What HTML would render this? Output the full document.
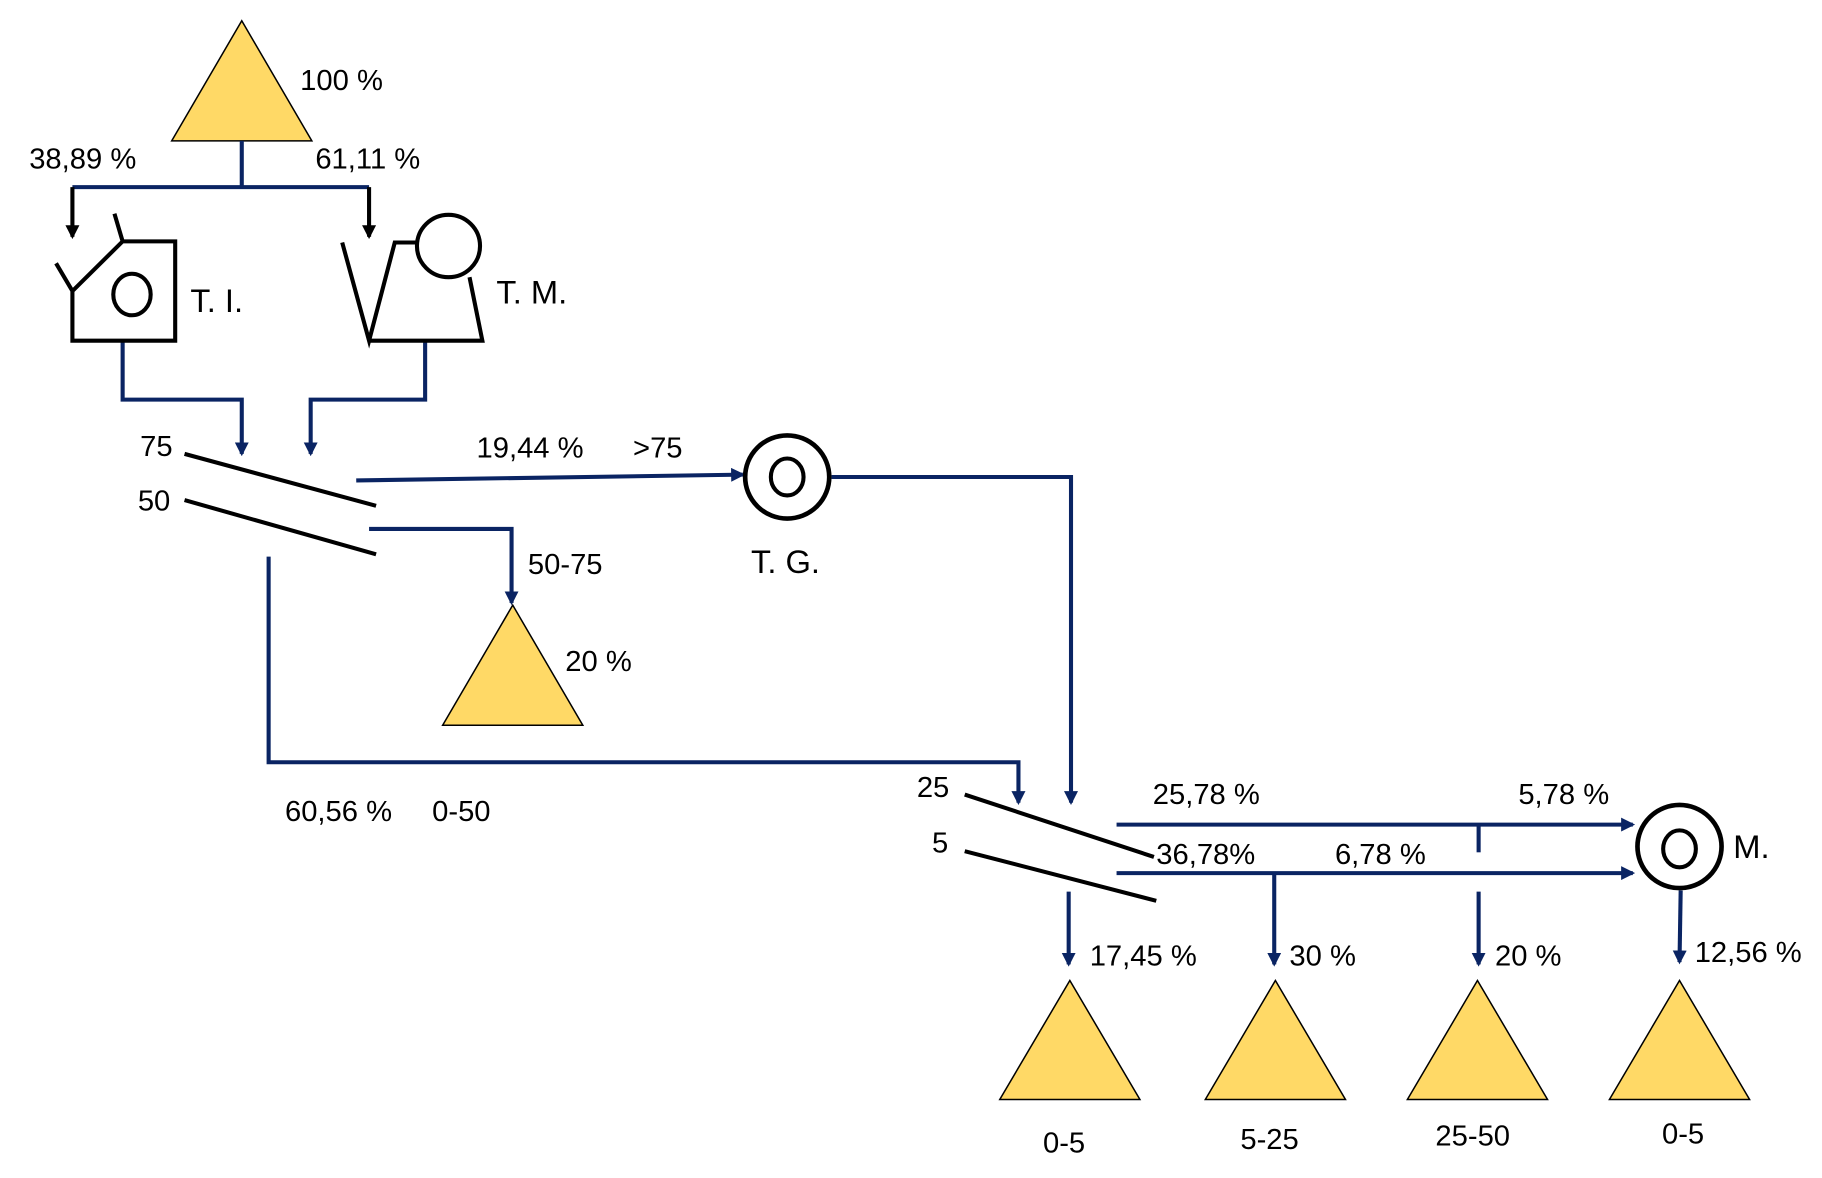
<!DOCTYPE html>
<html><head><meta charset="utf-8"><style>html,body{margin:0;padding:0;background:#fff}svg{display:block}text{font-family:"Liberation Sans",sans-serif;font-size:25px;fill:#000}</style></head><body>
<svg width="1822" height="1178" viewBox="0 0 1560 1020" preserveAspectRatio="none" xmlns="http://www.w3.org/2000/svg">
<defs>
<marker id="a" markerWidth="12" markerHeight="12" refX="10" refY="6" orient="auto" markerUnits="userSpaceOnUse" viewBox="0 0 12 12"><path d="M0,0 L12,6 L0,12 z" fill="#0A2463"/></marker>
<marker id="b" markerWidth="12" markerHeight="12" refX="10" refY="6" orient="auto" markerUnits="userSpaceOnUse" viewBox="0 0 12 12"><path d="M0,0 L12,6 L0,12 z" fill="#000"/></marker>
</defs>
<g fill="#FFD966" stroke="#000" stroke-width="1.3">
<polygon points="147,122 267,122 207,18"/>
<polygon points="379,628 499,628 439,524"/>
<polygon points="856,952 976,952 916,849"/>
<polygon points="1032,952 1152,952 1092,849"/>
<polygon points="1205,952 1325,952 1265,849"/>
<polygon points="1378,952 1498,952 1438,849"/>
</g>
<g fill="none" stroke="#0A2463" stroke-width="3.5">
<path d="M207,122 V162 M62,162 H316"/>
<path d="M105,295 V346 H207 V393" marker-end="url(#a)"/>
<path d="M364,295 V346 H266 V393" marker-end="url(#a)"/>
<path d="M305,416 L636,411" marker-end="url(#a)"/>
<path d="M712,413 H917 V695" marker-end="url(#a)"/>
<path d="M316,458 H438 V522" marker-end="url(#a)"/>
<path d="M230,482 V660 H872 V695" marker-end="url(#a)"/>
<path d="M956,714 H1398" marker-end="url(#a)"/>
<path d="M956,756 H1398" marker-end="url(#a)"/>
<path d="M1266,714 V738"/>
<path d="M1266,772 V835" marker-end="url(#a)"/>
<path d="M915,772 V835" marker-end="url(#a)"/>
<path d="M1091,756 V835" marker-end="url(#a)"/>
<path d="M1439,771 L1438,833" marker-end="url(#a)"/>
</g>
<g fill="none" stroke="#000" stroke-width="3.5">
<path d="M62,162 V205" marker-end="url(#b)"/>
<path d="M316,162 V205" marker-end="url(#b)"/>
<path d="M62,252 V295 H150 V209 H105 Z M62,252 L48,228 M105,209 L98,185"/>
<ellipse cx="113" cy="255" rx="16" ry="18"/>
<path d="M293,210 L316,295 L338,210 H357 M316,295 H413 L402,240"/>
<circle cx="384" cy="213" r="27"/>
<path d="M158,393 L322,438 M158,433 L322,480"/>
<path d="M826,688 L988,742 M826,737 L990,780"/>
<circle cx="674" cy="413" r="36" stroke-width="4"/>
<ellipse cx="674" cy="413" rx="14" ry="16"/>
<circle cx="1438" cy="733" r="36" stroke-width="4"/>
<ellipse cx="1438" cy="735" rx="14" ry="16"/>
</g>
<text x="257" y="78">100 %</text>
<text x="25" y="146">38,89 %</text>
<text x="270" y="146">61,11 %</text>
<text x="163" y="270" style="font-size:28px">T. I.</text>
<text x="425" y="263" style="font-size:28px">T. M.</text>
<text x="120" y="395">75</text>
<text x="118" y="442">50</text>
<text x="408" y="396">19,44 %</text>
<text x="542" y="396">&gt;75</text>
<text x="643" y="496" style="font-size:28px">T. G.</text>
<text x="452" y="497">50-75</text>
<text x="484" y="581">20 %</text>
<text x="244" y="711">60,56 %</text>
<text x="370" y="711">0-50</text>
<text x="785" y="690">25</text>
<text x="798" y="738">5</text>
<text x="987" y="696">25,78 %</text>
<text x="1300" y="696">5,78 %</text>
<text x="990" y="748">36,78%</text>
<text x="1143" y="748">6,78 %</text>
<text x="1484" y="743" style="font-size:28px">M.</text>
<text x="933" y="836">17,45 %</text>
<text x="1104" y="836">30 %</text>
<text x="1280" y="836">20 %</text>
<text x="1451" y="833">12,56 %</text>
<text x="893" y="998">0-5</text>
<text x="1062" y="995">5-25</text>
<text x="1229" y="992">25-50</text>
<text x="1423" y="990">0-5</text>
</svg>
</body></html>
